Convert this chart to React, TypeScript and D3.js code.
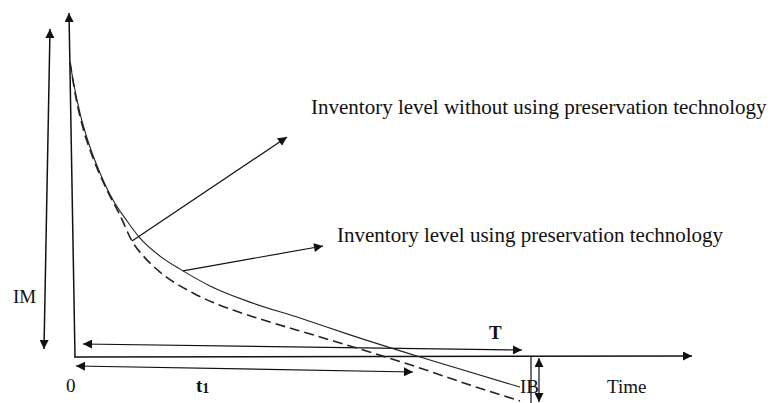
import { useMemo } from 'react'
import * as d3 from 'd3'

// solid curve: inventory level using preservation technology
const TIME_WITH = [0, 0.067, 0.222, 0.444, 0.667, 0.956, 1.267, 1.556, 2.0, 2.511, 3.111, 4.0, 5.111, 6.222, 7.778, 10.0]
const LEVEL_WITH = [100, 93.9, 82.7, 71.2, 62.4, 53.2, 46.1, 40.3, 34.2, 29.2, 24.1, 18.6, 13.2, 7.5, 0, -10.2]

// dashed curve: inventory level without preservation technology
const TIME_WITHOUT = [0, 0.133, 0.289, 0.511, 0.822, 1.111, 1.378, 1.667, 2.0, 2.733, 3.622, 4.222, 5.489, 6.956, 7.711, 8.889, 10.0]
const LEVEL_WITHOUT = [100, 87.8, 77.6, 67.5, 56.6, 48.1, 39.3, 33.6, 28.8, 21.7, 15.9, 12.9, 7.1, 0.3, -3.4, -9.5, -14.9]

const CYCLE_T = 10
const CYCLE_T1 = 7.6
const LABEL_WITHOUT = 'Inventory level without using preservation technology'
const LABEL_WITH = 'Inventory level using preservation technology'

const W = 772
const H = 403
const FONT = '"Liberation Serif", "Times New Roman", serif'
const INK = '#111'

export default function App() {
  const x = d3.scaleLinear().domain([0, 10]).range([70, 520])
  const y = d3.scaleLinear().domain([0, 100]).range([357, 62])

  const line = d3
    .line<[number, number]>()
    .x((d) => x(d[0]))
    .y((d) => y(d[1]))
    .curve(d3.curveMonotoneX)

  const withPts = useMemo(() => TIME_WITH.map((t, i) => [t, LEVEL_WITH[i]] as [number, number]), [])
  const withoutPts = useMemo(() => TIME_WITHOUT.map((t, i) => [t, LEVEL_WITHOUT[i]] as [number, number]), [])

  // label arrows start on the curves
  const pWithout = withoutPts[6]
  const pWith = withPts[9]

  const arrow = 'url(#head)'

  return (
    <svg
      width={W}
      height={H}
      style={{ position: 'fixed', left: 0, top: 0, background: '#fff' }}
      fontFamily={FONT}
    >
      <defs>
        <marker
          id="head"
          viewBox="0 0 10 10"
          refX={10}
          refY={5}
          markerWidth={11}
          markerHeight={9}
          markerUnits="userSpaceOnUse"
          orient="auto-start-reverse"
        >
          <path d="M0,0 L10,5 L0,10 z" fill={INK} />
        </marker>
      </defs>

      {/* IM double arrow */}
      <line x1={44} y1={349} x2={50} y2={29} stroke={INK} strokeWidth={1.5} markerStart={arrow} markerEnd={arrow} />

      {/* axes */}
      <line x1={75} y1={357} x2={69} y2={13} stroke={INK} strokeWidth={1.5} markerEnd={arrow} />
      <line x1={74} y1={357} x2={692} y2={356} stroke={INK} strokeWidth={1.5} markerEnd={arrow} />

      {/* T and t1 spans */}
      <line x1={83} y1={344} x2={x(CYCLE_T) + 2} y2={350} stroke={INK} strokeWidth={1.2} markerStart={arrow} markerEnd={arrow} />
      <line x1={76} y1={366} x2={x(CYCLE_T1) + 1} y2={372} stroke={INK} strokeWidth={1.2} markerStart={arrow} markerEnd={arrow} />

      {/* IB */}
      <line x1={531} y1={356} x2={531} y2={H} stroke={INK} strokeWidth={1.2} />
      <line x1={539} y1={358} x2={539} y2={402} stroke={INK} strokeWidth={1.2} markerStart={arrow} markerEnd={arrow} />

      {/* curves */}
      <path d={line(withPts) ?? ''} fill="none" stroke="#222" strokeWidth={1.1} />
      <path d={line(withoutPts) ?? ''} fill="none" stroke="#222" strokeWidth={1.6} strokeDasharray="10 5" />

      {/* label arrows */}
      <line x1={x(pWithout[0])} y1={y(pWithout[1])} x2={287} y2={137} stroke={INK} strokeWidth={1.2} markerEnd={arrow} />
      <line x1={x(pWith[0])} y1={y(pWith[1])} x2={323} y2={246} stroke={INK} strokeWidth={1.2} markerEnd={arrow} />

      <g fill={INK}>
        <text x={311} y={114} fontSize={21}>{LABEL_WITHOUT}</text>
        <text x={337} y={242} fontSize={21}>{LABEL_WITH}</text>
        <text x={13} y={303} fontSize={19}>IM</text>
        <text x={66} y={392} fontSize={19}>0</text>
        <text x={196} y={392} fontSize={19} fontWeight="bold">
          t<tspan fontSize={14} dy={1}>1</tspan>
        </text>
        <text x={489} y={339} fontSize={19} fontWeight="bold">T</text>
        <text x={520} y={393} fontSize={19}>IB</text>
        <text x={607} y={393} fontSize={19}>Time</text>
      </g>
    </svg>
  )
}
